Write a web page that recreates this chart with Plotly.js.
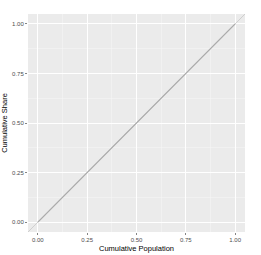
<!DOCTYPE html>
<html>
<head>
<meta charset="utf-8">
<script src="https://cdn.plot.ly/plotly-3.0.1.min.js"></script>
<style>html,body{margin:0;padding:0;background:#fff;}#chart{width:261px;height:255px;}</style>
</head>
<body>
<div id="chart"></div>
<script>
// Lorenz curve data (perfect equality)
const cumPopulation = [0, 0.25, 0.5, 0.75, 1];
const cumShare = [0, 0.25, 0.5, 0.75, 1];
// reference line y = x across the panel
const refX = [-0.05, 1.05];
const refY = [-0.05, 1.05];
const tickVals = [0, 0.25, 0.5, 0.75, 1];
const tickText = ["0.00", "0.25", "0.50", "0.75", "1.00"];

const traces = [
  {x: refX, y: refY, mode: 'lines', line: {color: '#cfcfcf', width: 1}, hoverinfo: 'skip', showlegend: false},
  {x: cumPopulation, y: cumShare, mode: 'lines', line: {color: '#ababab', width: 1.3}, showlegend: false}
];

const axisCommon = {
  range: [-0.05, 1.05],
  tickvals: tickVals,
  ticktext: tickText,
  ticks: 'outside',
  ticklen: 2,
  tickwidth: 0.6,
  tickcolor: '#333333',
  tickfont: {family: 'Liberation Sans, Arial, sans-serif', size: 6, color: '#4d4d4d'},
  showgrid: true,
  gridcolor: '#ffffff',
  gridwidth: 1,
  zeroline: false,
  showline: false,
  minor: {tick0: 0.125, dtick: 0.25, showgrid: true, gridcolor: '#f7f7f7', gridwidth: 0.5, ticks: ''},
  fixedrange: true
};

const layout = {
  width: 261, height: 255,
  margin: {l: 28, r: 15.5, t: 14, b: 22.5},
  paper_bgcolor: '#ffffff',
  plot_bgcolor: '#ebebeb',
  xaxis: Object.assign({}, axisCommon, {
    title: {text: 'Cumulative Population', font: {family: 'Liberation Sans, Arial, sans-serif', size: 7.5, color: '#000000'}, standoff: 3}
  }),
  yaxis: Object.assign({}, axisCommon, {
    title: {text: 'Cumulative Share', font: {family: 'Liberation Sans, Arial, sans-serif', size: 7.5, color: '#000000'}, standoff: 3}
  }),
  showlegend: false
};

Plotly.newPlot('chart', traces, layout, {displayModeBar: false, staticPlot: true});
</script>
</body>
</html>
